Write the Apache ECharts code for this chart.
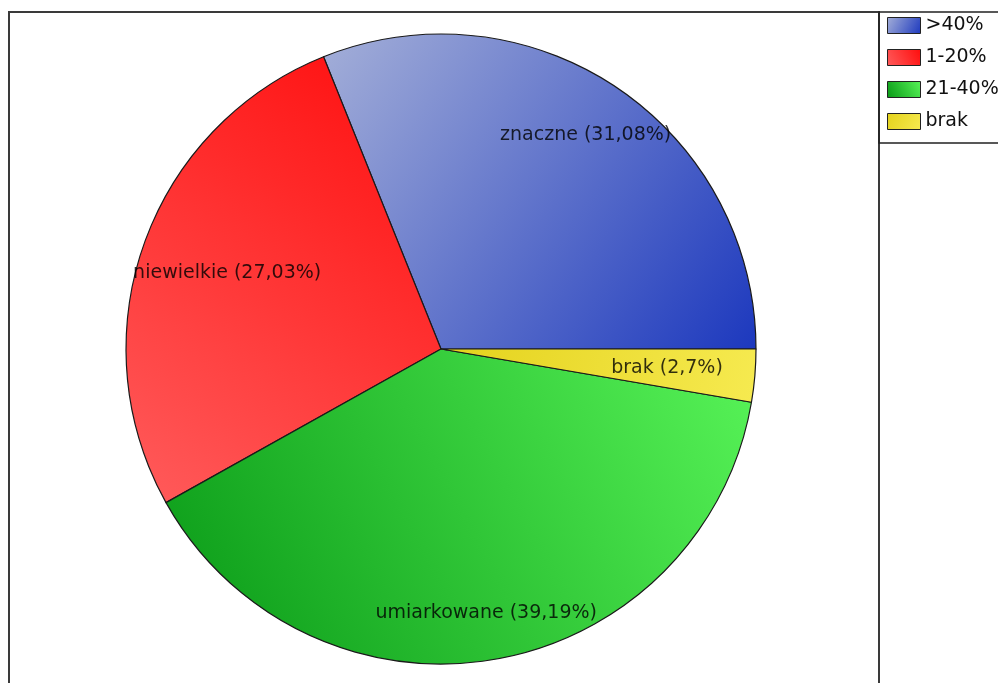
<!DOCTYPE html>
<html>
<head>
<meta charset="utf-8">
<script src="https://cdn.jsdelivr.net/npm/echarts@6/dist/echarts.min.js"></script>
<style>
  html, body { margin: 0; padding: 0; background: #fff; }
  #chart { width: 998px; height: 683px; }
</style>
</head>
<body>
<div id="chart"></div>
<script>
// data
const legendNames = ['>40%', '1-20%', '21-40%', 'brak'];
const labelNames = ['znaczne', 'niewielkie', 'umiarkowane', 'brak'];
const counts = [23, 20, 29, 2];

// layout
const cx = 441, cy = 349, R = 315;
const labelRadius = [0.82, 0.72, 0.85, 0.72];
const total = counts.reduce((a, b) => a + b, 0);

const grad = (x, y, x2, y2, c0, c1) => ({
  type: 'linear', x, y, x2, y2,
  colorStops: [{ offset: 0, color: c0 }, { offset: 1, color: c1 }]
});
const fills = [
  grad(0, 0, 1, 1, '#a4afd8', '#1c38be'),
  grad(1, 0, 0, 1, '#ff0c0c', '#ff5c5c'),
  grad(0, 1, 1, 0, '#089816', '#58f458'),
  grad(0, 0, 1, 1, '#e4d21c', '#f6ea50')
];

const pct = v => parseFloat((v / total * 100).toFixed(2)).toString().replace('.', ',');

// mid angle of each slice (start at 3 o'clock, counter clockwise)
const midAngles = [];
let acc = 0;
counts.forEach(v => {
  midAngles.push((acc + v / 2) / total * Math.PI * 2);
  acc += v;
});

const chart = echarts.init(document.getElementById('chart'));
chart.setOption({
  animation: false,
  legend: {
    orient: 'vertical',
    left: 887,
    top: 16,
    padding: 0,
    itemWidth: 33,
    itemHeight: 16,
    itemGap: 13,
    icon: 'rect',
    data: legendNames,
    itemStyle: { borderColor: '#222', borderWidth: 1 },
    textStyle: { fontFamily: 'DejaVu Sans', fontSize: 19, color: '#111', lineHeight: 16 }
  },
  graphic: [
    {
      type: 'rect', silent: true,
      shape: { x: 9, y: 12, width: 870, height: 700 },
      style: { fill: 'none', stroke: '#3a3a3a', lineWidth: 2 }
    },
    {
      type: 'rect', silent: true,
      shape: { x: 879, y: 12, width: 130, height: 131 },
      style: { fill: 'none', stroke: '#222', lineWidth: 1.5 }
    }
  ],
  series: [{
    type: 'pie',
    center: [cx, cy],
    radius: R,
    startAngle: 0,
    clockwise: false,
    avoidLabelOverlap: false,
    emphasis: { disabled: true },
    itemStyle: { borderColor: '#1a1a1a', borderWidth: 1.2 },
    label: {
      show: true,
      position: 'inside',
      fontFamily: 'DejaVu Sans',
      fontSize: 19,
      color: 'rgba(0,0,0,0.8)',
      textBorderWidth: 0,
      formatter: p => labelNames[p.dataIndex] + ' (' + pct(p.value) + '%)'
    },
    labelLayout: p => {
      const a = midAngles[p.dataIndex];
      const d = labelRadius[p.dataIndex] * R;
      return {
        x: cx + d * Math.cos(a),
        y: cy - d * Math.sin(a),
        align: 'center',
        verticalAlign: 'middle'
      };
    },
    data: counts.map((v, i) => ({
      name: legendNames[i],
      value: v,
      itemStyle: { color: fills[i] }
    }))
  }]
});
</script>
</body>
</html>
